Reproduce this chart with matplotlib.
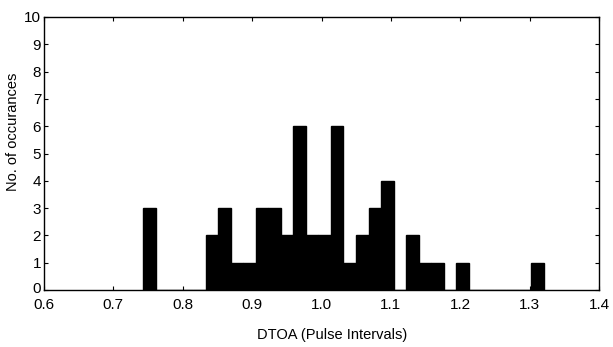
import matplotlib
matplotlib.use("Agg")
import matplotlib.pyplot as plt
import matplotlib.transforms as mtransforms
import numpy as np

# Histogram: 32 bins, first left edge and bin width
bin_start = 0.7427
bin_width = 0.01806
counts = [3, 0, 0, 0, 0, 2, 3, 1, 1, 3, 3, 2, 6, 2, 2, 6,
          1, 2, 3, 4, 0, 2, 1, 1, 0, 1, 0, 0, 0, 0, 0, 1]
x_ticks = [0.6, 0.7, 0.8, 0.9, 1.0, 1.1, 1.2, 1.3, 1.4]
x_tick_labels = ["0.6", "0.7", "0.8", "0.9", "1.0", "1.1", "1.2", "1.3", "1.4"]
y_ticks = list(range(0, 11))

plt.rcParams['font.family'] = ['Liberation Sans', 'DejaVu Sans']

fig = plt.figure(figsize=(6.13, 3.47), dpi=100)
W, H = 613, 347
left, right, top, bottom = 44, 599, 17, 290
ax = fig.add_axes([left / W, 1 - bottom / H, (right - left) / W, (bottom - top) / H])

lefts = bin_start + bin_width * np.arange(len(counts))
ax.bar(lefts, counts, width=bin_width, align='edge', color='black',
       edgecolor='black', linewidth=1.0)

ax.set_xlim(0.6, 1.4)
ax.set_ylim(0, 10)
ax.set_xticks(x_ticks)
ax.set_xticklabels(x_tick_labels)
ax.set_yticks(y_ticks)
ax.tick_params(direction='in', length=3, width=0.8, top=True, right=True,
               labelsize=11, pad=2, colors='black')
ax.tick_params(axis='x', pad=5.5)
for s in ax.spines.values():
    s.set_linewidth(1.0)
    s.set_color('black')

# nudge the "0" label on the y axis slightly upward so it only touches "0.6"
fig.canvas.draw()
zero_lbl = ax.get_yticklabels()[0]
zero_lbl.set_transform(zero_lbl.get_transform() +
                       mtransforms.ScaledTranslation(0, 2 / 72, fig.dpi_scale_trans))

fig.text(332 / W, 1 - 335 / H, "DTOA (Pulse Intervals)", ha='center', va='center',
         fontsize=10.5)
fig.text(13 / W, 1 - 132 / H, "No. of occurances", ha='center', va='center',
         rotation=90, fontsize=10.5)

fig.savefig("out.png", dpi=100)
